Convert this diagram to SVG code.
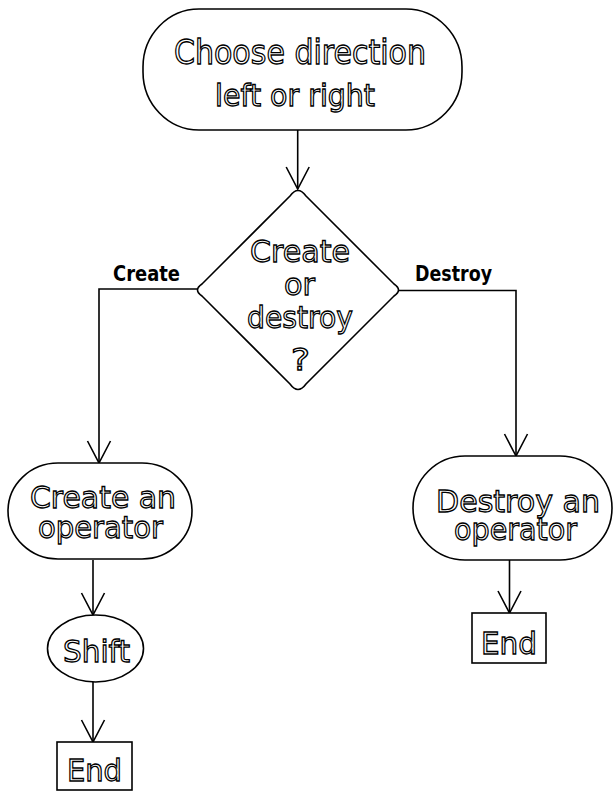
<svg xmlns="http://www.w3.org/2000/svg" width="613" height="791" viewBox="0 0 613 791">
<style>
.shape{fill:#fff;stroke:#000;stroke-width:1.6}
.t{font-family:"DejaVu Sans","Liberation Sans",sans-serif;font-size:31px;fill:#fff;stroke:#000;stroke-width:1.3}
.lbl{font-family:"DejaVu Sans","Liberation Sans",sans-serif;font-weight:bold;font-size:21px;fill:#000}
.c{fill:none;stroke:#000;stroke-width:1.6}
</style>
<defs>
<marker id="arr" markerUnits="userSpaceOnUse" markerWidth="30" markerHeight="30" refX="0" refY="0" orient="auto" overflow="visible">
<path d="M-22,-11.5 L0,0 L-22,11.5" fill="none" stroke="#000" stroke-width="1.6"/>
</marker>
</defs>
<g id="connectors">
<path class="c" d="M297.7,130 L297.7,189" marker-end="url(#arr)"/>
<path class="c" d="M198,289 L99,289 L99,463" marker-end="url(#arr)"/>
<path class="c" d="M399,290.5 L516,290.5 L516,456" marker-end="url(#arr)"/>
<path class="c" d="M93,560 L93,615" marker-end="url(#arr)"/>
<path class="c" d="M93,682 L93,742" marker-end="url(#arr)"/>
<path class="c" d="M509.5,560 L509.5,613" marker-end="url(#arr)"/>
<text class="lbl" x="113" y="281" textLength="67" lengthAdjust="spacingAndGlyphs">Create</text>
<text class="lbl" x="415" y="281" textLength="77" lengthAdjust="spacingAndGlyphs">Destroy</text>
</g>
<g id="start">
<rect class="shape" x="143" y="9" width="319" height="121" rx="56" ry="58"/>
<text class="t" x="174" y="64" textLength="252" lengthAdjust="spacingAndGlyphs" style="font-size:33px">Choose direction</text>
<text class="t" x="215" y="106" textLength="160" lengthAdjust="spacingAndGlyphs" style="font-size:30px">left or right</text>
</g>
<g id="decision">
<path class="shape" d="M306,196 L394,284 Q403,290 394,296 L306,384 Q298,395 290,384 L202,296 Q193,290 202,284 L290,196 Q298,185 306,196 Z"/>
<text class="t" x="250" y="262" textLength="100" lengthAdjust="spacingAndGlyphs">Create</text>
<text class="t" x="284" y="295" textLength="31" lengthAdjust="spacingAndGlyphs">or</text>
<text class="t" x="247" y="328" textLength="106" lengthAdjust="spacingAndGlyphs">destroy</text>
<text class="t" x="291" y="370" textLength="19" lengthAdjust="spacingAndGlyphs">?</text>
</g>
<g id="create">
<rect class="shape" x="8" y="463" width="184" height="96" rx="50" ry="48"/>
<text class="t" x="30" y="508" textLength="146" lengthAdjust="spacingAndGlyphs">Create an</text>
<text class="t" x="38" y="538" textLength="125" lengthAdjust="spacingAndGlyphs">operator</text>
</g>
<g id="destroy">
<rect class="shape" x="413" y="456" width="199" height="104" rx="52" ry="52"/>
<text class="t" x="436" y="512" textLength="164" lengthAdjust="spacingAndGlyphs">Destroy an</text>
<text class="t" x="454" y="540" textLength="123" lengthAdjust="spacingAndGlyphs">operator</text>
</g>
<g id="shift">
<ellipse class="shape" cx="95.5" cy="648.5" rx="48" ry="33.5"/>
<text class="t" x="63" y="662" textLength="67" lengthAdjust="spacingAndGlyphs">Shift</text>
</g>
<g id="end-right">
<rect class="shape" x="472" y="613" width="74" height="50"/>
<text class="t" x="481" y="654" textLength="56" lengthAdjust="spacingAndGlyphs">End</text>
</g>
<g id="end-left">
<rect class="shape" x="57" y="742" width="75" height="48"/>
<text class="t" x="67" y="781" textLength="55" lengthAdjust="spacingAndGlyphs">End</text>
</g>
</svg>
